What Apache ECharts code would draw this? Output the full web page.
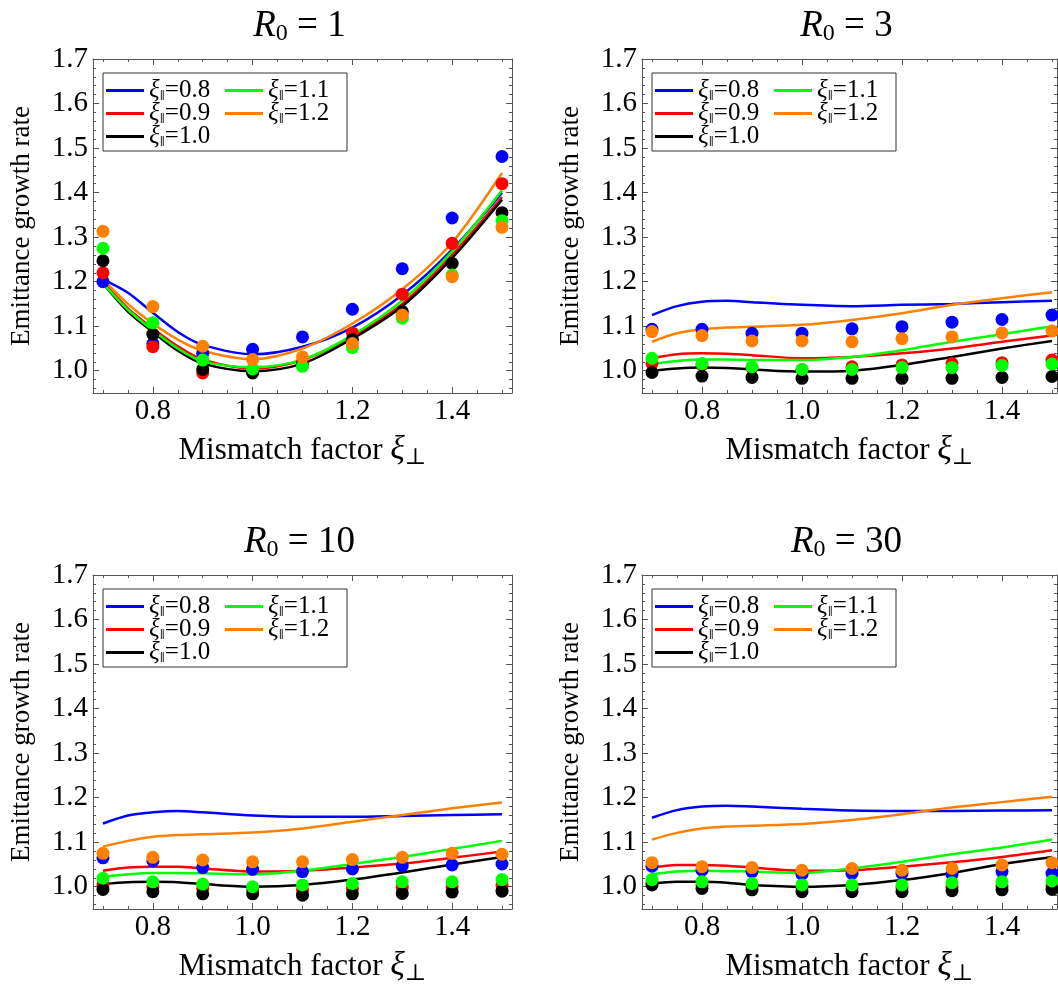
<!DOCTYPE html>
<html>
<head>
<meta charset="utf-8">
<title>Emittance growth rate</title>
<script src="https://cdn.jsdelivr.net/npm/echarts@6/dist/echarts.min.js"></script>
<style>
html, body { margin: 0; padding: 0; background: #fff; }
#main { width: 1058px; height: 990px; }
</style>
</head>
<body>
<div id="main"></div>
<script>
// 数据
const r0Values = ['1', '3', '10', '30'];
const xiPar = ['0.8', '0.9', '1.0', '1.1', '1.2'];
const colors = ['#0000ff', '#ff0000', '#000000', '#00ff00', '#ff8000'];

const dotX = [0.7, 0.8, 0.9, 1.0, 1.1, 1.2, 1.3, 1.4, 1.5];
const lineX = [0.7, 0.75, 0.8, 0.85, 0.9, 1.0, 1.1, 1.2, 1.3, 1.4, 1.5];

// 刻度
const xLabelTicks = [0.8, 1.0, 1.2, 1.4];
const xMinorTicks = [0.7, 0.75, 0.8, 0.85, 0.9, 0.95, 1.0, 1.05, 1.1, 1.15, 1.2, 1.25, 1.3, 1.35, 1.4, 1.45, 1.5];
const yLabelTicks = [1.0, 1.1, 1.2, 1.3, 1.4, 1.5, 1.6, 1.7];
const yMinorTicks = [0.96, 0.98, 1.0, 1.02, 1.04, 1.06, 1.08, 1.1, 1.12, 1.14, 1.16, 1.18, 1.2, 1.22, 1.24, 1.26, 1.28,
  1.3, 1.32, 1.34, 1.36, 1.38, 1.4, 1.42, 1.44, 1.46, 1.48, 1.5, 1.52, 1.54, 1.56, 1.58, 1.6, 1.62, 1.64, 1.66, 1.68, 1.7];

// R0 = 1  (order: 0.8, 0.9, 1.0, 1.1, 1.2)
const r1Dots = [
  [1.200, 1.061, 1.039, 1.048, 1.076, 1.138, 1.229, 1.343, 1.481],
  [1.220, 1.054, 0.995, 0.998, 1.020, 1.085, 1.172, 1.286, 1.420],
  [1.247, 1.082, 1.003, 0.995, 1.012, 1.070, 1.133, 1.241, 1.355],
  [1.275, 1.108, 1.024, 1.004, 1.010, 1.052, 1.118, 1.215, 1.337],
  [1.313, 1.144, 1.055, 1.025, 1.031, 1.061, 1.125, 1.211, 1.322]
];
const r1Lines = [
  [1.205, 1.175, 1.130, 1.087, 1.058, 1.037, 1.054, 1.097, 1.170, 1.272, 1.400],
  [1.200, 1.140, 1.095, 1.055, 1.025, 1.005, 1.024, 1.077, 1.150, 1.260, 1.390],
  [1.196, 1.133, 1.087, 1.045, 1.016, 0.999, 1.016, 1.072, 1.145, 1.253, 1.384],
  [1.196, 1.137, 1.091, 1.050, 1.021, 1.008, 1.025, 1.080, 1.158, 1.268, 1.405],
  [1.205, 1.150, 1.106, 1.070, 1.045, 1.026, 1.050, 1.106, 1.183, 1.288, 1.444]
];

// R0 = 3
const r3Dots = [
  [1.093, 1.093, 1.084, 1.084, 1.094, 1.099, 1.109, 1.115, 1.125],
  [1.016, 1.013, 1.007, 1.002, 1.009, 1.013, 1.016, 1.018, 1.024],
  [0.996, 0.988, 0.985, 0.983, 0.983, 0.983, 0.983, 0.985, 0.987],
  [1.028, 1.016, 1.009, 1.003, 1.003, 1.007, 1.007, 1.012, 1.015],
  [1.088, 1.079, 1.067, 1.067, 1.065, 1.072, 1.076, 1.085, 1.089]
];
const r3Lines = [
  [1.125, 1.145, 1.155, 1.157, 1.154, 1.148, 1.145, 1.148, 1.150, 1.154, 1.157],
  [1.028, 1.037, 1.039, 1.038, 1.035, 1.028, 1.031, 1.039, 1.050, 1.065, 1.079],
  [1.000, 1.005, 1.007, 1.006, 1.003, 0.998, 1.000, 1.013, 1.031, 1.050, 1.067],
  [1.015, 1.022, 1.025, 1.025, 1.024, 1.024, 1.031, 1.046, 1.065, 1.082, 1.100],
  [1.065, 1.084, 1.093, 1.097, 1.099, 1.103, 1.114, 1.129, 1.148, 1.163, 1.176]
];

// R0 = 10
const r10Dots = [
  [1.065, 1.058, 1.043, 1.039, 1.034, 1.040, 1.047, 1.049, 1.051],
  [1.004, 1.000, 0.996, 0.993, 0.993, 0.996, 0.999, 1.000, 1.003],
  [0.994, 0.989, 0.984, 0.984, 0.981, 0.984, 0.985, 0.988, 0.990],
  [1.019, 1.011, 1.006, 1.000, 1.004, 1.007, 1.011, 1.011, 1.016],
  [1.075, 1.066, 1.060, 1.056, 1.056, 1.061, 1.066, 1.075, 1.073]
];
const r10Lines = [
  [1.142, 1.160, 1.167, 1.170, 1.167, 1.160, 1.157, 1.157, 1.159, 1.161, 1.163],
  [1.036, 1.043, 1.045, 1.045, 1.041, 1.034, 1.036, 1.043, 1.052, 1.065, 1.079],
  [1.006, 1.010, 1.011, 1.010, 1.006, 1.000, 1.004, 1.016, 1.032, 1.050, 1.067],
  [1.022, 1.028, 1.031, 1.031, 1.030, 1.028, 1.036, 1.051, 1.067, 1.085, 1.103],
  [1.090, 1.103, 1.112, 1.116, 1.118, 1.122, 1.131, 1.146, 1.161, 1.176, 1.189]
];

// R0 = 30
const r30Dots = [
  [1.046, 1.037, 1.034, 1.028, 1.030, 1.030, 1.028, 1.034, 1.030],
  [1.008, 1.004, 1.000, 0.997, 0.997, 0.997, 0.999, 1.001, 1.002],
  [1.004, 0.996, 0.993, 0.989, 0.989, 0.989, 0.991, 0.993, 0.994],
  [1.016, 1.011, 1.007, 1.004, 1.004, 1.004, 1.009, 1.011, 1.013],
  [1.054, 1.045, 1.043, 1.037, 1.041, 1.037, 1.041, 1.049, 1.054]
];
const r30Lines = [
  [1.155, 1.172, 1.180, 1.182, 1.180, 1.175, 1.171, 1.170, 1.170, 1.171, 1.172],
  [1.043, 1.049, 1.049, 1.047, 1.043, 1.036, 1.037, 1.045, 1.055, 1.067, 1.082],
  [1.007, 1.011, 1.011, 1.009, 1.004, 1.000, 1.004, 1.015, 1.031, 1.051, 1.067],
  [1.028, 1.034, 1.036, 1.035, 1.034, 1.031, 1.041, 1.056, 1.073, 1.088, 1.106],
  [1.106, 1.121, 1.131, 1.135, 1.137, 1.141, 1.150, 1.163, 1.178, 1.190, 1.202]
];

const panelDots = [r1Dots, r3Dots, r10Dots, r30Dots];
const panelLines = [r1Lines, r3Lines, r10Lines, r30Lines];

const grids = [
  { left: 93, top: 59, width: 419, height: 334 },
  { left: 642, top: 59, width: 415, height: 334 },
  { left: 93, top: 575, width: 419, height: 334 },
  { left: 642, top: 575, width: 415, height: 334 }
];
const xMax = [1.52, 1.51, 1.52, 1.51];

const serif = '"Liberation Serif", "DejaVu Serif", serif';
const frameColor = '#555';

const myChart = echarts.init(document.getElementById('main'));

let xAxes = [], yAxes = [], series = [], legends = [], titles = [];

// 坐标轴（四边框 + 刻度）
function axis(dim, g, position, ticks, len, withLine, labels) {
  const a = {
    gridIndex: g,
    type: 'value',
    position: position,
    min: dim === 'x' ? 0.68 : 0.95,
    max: dim === 'x' ? xMax[g] : 1.7,
    splitLine: { show: false },
    axisLine: { show: withLine, onZero: false, lineStyle: { color: frameColor, width: 1 } },
    axisTick: { show: true, inside: true, length: len, customValues: ticks, lineStyle: { color: frameColor, width: 1 } },
    axisLabel: { show: false },
    silent: true
  };
  if (labels) {
    a.axisLabel = {
      show: true, customValues: labels, margin: dim === 'x' ? 4 : 5,
      formatter: v => v.toFixed(1),
      fontFamily: serif, fontSize: 29, color: '#000'
    };
  }
  return a;
}

panelLines.forEach((lines, g) => {
  const gr = grids[g];
  const bottom = axis('x', g, 'bottom', xLabelTicks, 6, true, xLabelTicks);
  bottom.name = 'Mismatch factor {x|ξ}{s|⊥}';
  bottom.nameLocation = 'middle';
  bottom.nameGap = 39;
  bottom.nameTextStyle = {
    fontFamily: serif, fontSize: 31, color: '#000',
    rich: {
      x: { fontFamily: serif, fontSize: 34, fontStyle: 'italic', color: '#000' },
      s: { fontFamily: serif, fontSize: 23, color: '#000', padding: [14, 0, 0, 0] }
    }
  };
  xAxes.push(bottom);
  xAxes.push(axis('x', g, 'bottom', xMinorTicks, 3, false));
  xAxes.push(axis('x', g, 'top', xLabelTicks, 6, true));
  xAxes.push(axis('x', g, 'top', xMinorTicks, 3, false));

  const left = axis('y', g, 'left', yLabelTicks, 6, true, yLabelTicks);
  left.name = 'Emittance growth rate';
  left.nameLocation = 'middle';
  left.nameGap = 58;
  left.nameTextStyle = { fontFamily: serif, fontSize: 27, color: '#000' };
  yAxes.push(left);
  yAxes.push(axis('y', g, 'left', yMinorTicks, 3, false));
  yAxes.push(axis('y', g, 'right', yLabelTicks, 6, true));
  yAxes.push(axis('y', g, 'right', yMinorTicks, 3, false));

  // 曲线
  lines.forEach((vals, i) => {
    series.push({
      type: 'line',
      name: xiPar[i],
      xAxisIndex: g * 4,
      yAxisIndex: g * 4,
      data: lineX.map((x, k) => [x, vals[k]]),
      symbol: 'none',
      showSymbol: false,
      smooth: 0.3,
      lineStyle: { color: colors[i], width: 2.5 },
      itemStyle: { color: colors[i] },
      z: 2,
      silent: true
    });
  });
  // 散点
  panelDots[g].forEach((vals, i) => {
    series.push({
      type: 'scatter',
      name: 'pt' + xiPar[i],
      xAxisIndex: g * 4,
      yAxisIndex: g * 4,
      data: dotX.map((x, k) => [x, vals[k]]),
      symbol: 'circle',
      symbolSize: 13,
      itemStyle: { color: colors[i], opacity: 1 },
      z: 3,
      silent: true
    });
  });

  legends.push({
    left: gr.left + 10,
    top: gr.top + 14,
    orient: 'vertical',
    height: 78,
    padding: [5, 1, 2, 3],
    itemGap: -2,
    itemWidth: 38,
    itemHeight: 3,
    icon: 'rect',
    borderColor: '#333',
    borderWidth: 1,
    backgroundColor: '#fff',
    selectedMode: false,
    data: xiPar,
    formatter: name => '{g|ξ}{s|∥}{n|=' + name + '}',
    textStyle: {
      width: 78,
      lineHeight: 22,
      rich: {
        g: { fontFamily: serif, fontSize: 25, fontStyle: 'italic', color: '#000', lineHeight: 22 },
        s: { fontFamily: serif, fontSize: 11, color: '#000', lineHeight: 22, padding: [11, 0, 0, 0] },
        n: { fontFamily: serif, fontSize: 25, color: '#000', lineHeight: 22 }
      }
    }
  });

  titles.push({
    text: '{r|R}{s|0}{n| = ' + r0Values[g] + '}',
    left: gr.left + gr.width / 2 - 8,
    top: gr.top - 58,
    textAlign: 'center',
    textStyle: {
      fontWeight: 'normal',
      rich: {
        r: { fontFamily: serif, fontSize: 37, fontStyle: 'italic', fontWeight: 'normal', color: '#000' },
        s: { fontFamily: serif, fontSize: 24, fontWeight: 'normal', color: '#000', padding: [16, 0, 0, 0] },
        n: { fontFamily: serif, fontSize: 37, fontWeight: 'normal', color: '#000' }
      }
    }
  });
});

const option = {
  animation: false,
  backgroundColor: '#fff',
  textStyle: { fontFamily: serif },
  title: titles,
  grid: grids.map(gr => Object.assign({ containLabel: false, outerBoundsMode: 'none' }, gr)),
  xAxis: xAxes,
  yAxis: yAxes,
  legend: legends,
  tooltip: { show: false },
  series: series
};
myChart.setOption(option);
</script>
</body>
</html>
